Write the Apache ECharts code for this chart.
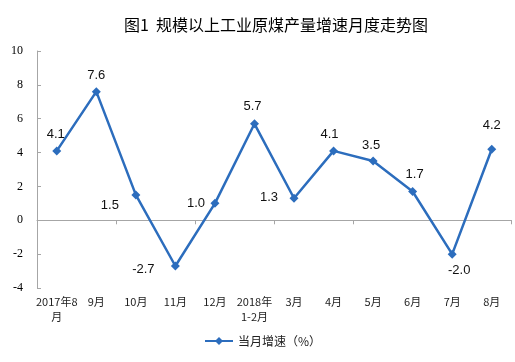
<!DOCTYPE html>
<html><head><meta charset="utf-8">
<script src="https://cdn.jsdelivr.net/npm/echarts@6/dist/echarts.min.js"></script>
<style>html,body{margin:0;padding:0;background:#fff}#c{width:515px;height:362px}</style>
</head><body><div id="c"></div>
<script>
const categories = ['2017年8\n月','9月','10月','11月','12月','2018年\n1-2月','3月','4月','5月','6月','7月','8月'];
const growth = [4.1, 7.6, 1.5, -2.7, 1.0, 5.7, 1.3, 4.1, 3.5, 1.7, -2.0, 4.2];
const labelOffsets = [[-1,-16],[0,-16],[-26,11],[-32,3],[-19,0],[-2,-17],[-25,-1],[-4,-16],[-2,-16],[2,-17],[7,16],[0,-24]];
const yMin = -4, yMax = 10, yStep = 2;
const titleText = '图1  规模以上工业原煤产量增速月度走势图';
const seriesName = '当月增速（%）';

const color = '#2c6dbd';
const chart = echarts.init(document.getElementById('c'));
chart.setOption({
  animation: false,
  title: { text: titleText, left: 119, top: 12,
    textStyle: { fontFamily: 'Noto Sans CJK SC', fontSize: 16, fontWeight: 'normal', color: '#000' } },
  grid: { left: 37, right: 3.5, top: 51, bottom: 74 },
  legend: { left: 199, top: 330, itemWidth: 28, itemHeight: 10, itemGap: 4,
    textStyle: { fontFamily: 'Noto Sans CJK SC', fontSize: 12, color: '#222' },
    data: [seriesName] },
  xAxis: [
    { type: 'category', data: categories, boundaryGap: true,
      axisLine: { onZero: true, lineStyle: { color: '#a6a6a6', width: 1 } },
      axisTick: { show: true, length: 4, lineStyle: { color: '#a6a6a6' } },
      axisLabel: { show: false } },
    { type: 'category', data: categories, boundaryGap: true, position: 'bottom',
      axisLine: { show: false, onZero: false }, axisTick: { show: false },
      axisLabel: { margin: 6, fontFamily: 'Noto Sans CJK SC', fontSize: 11, color: '#222', lineHeight: 15, interval: 0 } }
  ],
  yAxis: { type: 'value', min: yMin, max: yMax, interval: yStep,
    splitLine: { show: false },
    axisLine: { show: true, lineStyle: { color: '#a6a6a6' } },
    axisTick: { show: true, inside: true, length: 4, lineStyle: { color: '#a6a6a6' } },
    axisLabel: { margin: 14, fontFamily: 'Liberation Serif', fontSize: 12, color: '#000' } },
  series: [{
    name: seriesName, type: 'line', xAxisIndex: 0,
    data: growth.map((v, i) => ({ value: v, label: { offset: labelOffsets[i] } })),
    symbol: 'diamond', symbolSize: 9,
    lineStyle: { color: color, width: 2.5 },
    itemStyle: { color: color },
    label: { show: true, position: 'inside', fontFamily: 'Liberation Sans', fontSize: 13, color: '#111',
      formatter: p => p.value.toFixed(1) }
  }]
});
</script></body></html>
